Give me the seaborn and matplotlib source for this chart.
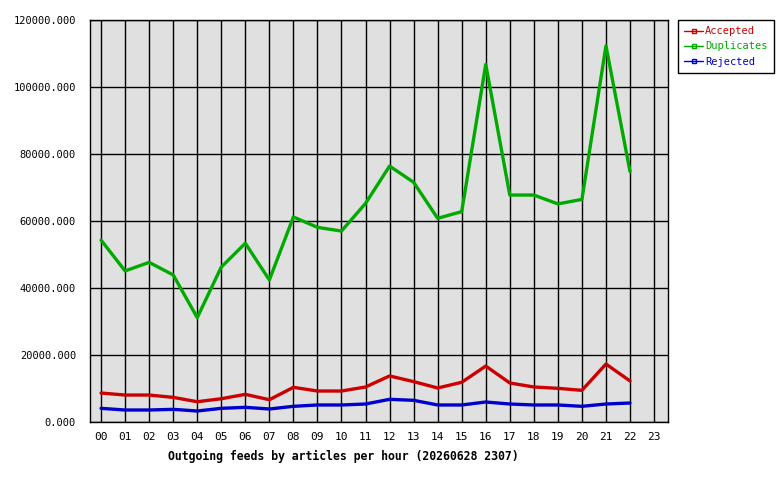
import matplotlib
matplotlib.use("Agg")
import matplotlib.pyplot as plt
from matplotlib.lines import Line2D
import seaborn as sns
import pandas as pd

hours = ["00","01","02","03","04","05","06","07","08","09","10","11",
         "12","13","14","15","16","17","18","19","20","21","22","23"]
accepted = [8650, 8050, 8050, 7350, 6050, 6950, 8250, 6650, 10350, 9250, 9250, 10450,
            13750, 12050, 10150, 11850, 16700, 11650, 10450, 10050, 9450, 17300, 12250]
duplicates = [54300, 45100, 47650, 43900, 31150, 46250, 53350, 42400, 61200, 58100, 57000, 65250,
              76400, 71550, 60800, 62800, 106750, 67750, 67750, 65100, 66450, 112300, 74750]
rejected = [4080, 3580, 3580, 3780, 3280, 4080, 4380, 3880, 4680, 5080, 5080, 5370,
            6770, 6470, 5080, 5080, 5970, 5370, 5080, 5080, 4680, 5370, 5670]
series_names = ["Accepted", "Duplicates", "Rejected"]
colors = ["#cc0000", "#00aa00", "#0000cc"]
yticks = [0, 20000, 40000, 60000, 80000, 100000, 120000]
title = "Outgoing feeds by articles per hour (20260628 2307)"

rows = []
for name, vals in zip(series_names, [accepted, duplicates, rejected]):
    for i, v in enumerate(vals):
        rows.append({"hour": i, "value": v, "series": name})
df = pd.DataFrame(rows)

sns.set_theme(style="white")
plt.rcParams["font.family"] = ["DejaVu Sans Mono"]

fig = plt.figure(figsize=(7.8, 4.8), dpi=100)
ax = fig.add_axes([90/780, 1-422/480, (668-90)/780, (422-20)/480])
ax.set_facecolor("#e0e0e0")

sns.lineplot(data=df, x="hour", y="value", hue="series", hue_order=series_names,
             palette=colors, linewidth=2.4, ax=ax, legend=False, zorder=3)

ax.set_xlim(-0.46, 23.58)
ax.set_ylim(0, 120000)
ax.set_xticks(range(24))
ax.set_xticklabels(hours)
ax.set_yticks(yticks)
ax.set_yticklabels([f"{v}.000" for v in yticks])
ax.grid(True, color="black", linewidth=1.0)
ax.set_axisbelow(True)
for s in ax.spines.values():
    s.set_color("black")
    s.set_linewidth(1.0)
ax.tick_params(axis="y", direction="out", length=8, width=1, colors="black", labelsize=7.5, pad=2)
ax.tick_params(axis="x", direction="out", length=3, width=1, colors="black", labelsize=8, pad=4)
for lbl in ax.get_xticklabels() + ax.get_yticklabels():
    lbl.set_color("black")
ax.set_xlabel(title, fontsize=8.3, fontweight="bold", color="black")
ax.xaxis.set_label_coords((343-90)/(668-90), -0.07)
ax.set_ylabel("")

handles = [Line2D([0], [0], color=c, linewidth=1, marker="s", markersize=3,
                  markerfacecolor="none", markeredgecolor=c) for c in colors]
leg = fig.legend(handles, series_names, loc="upper left",
                 bbox_to_anchor=(678/780, 1-20/480), fontsize=7.5, frameon=True,
                 fancybox=False, edgecolor="black", framealpha=1, handlelength=1.8,
                 handletextpad=0.2, borderpad=0.6, labelspacing=0.5, borderaxespad=0)
leg.get_frame().set_linewidth(1.0)
for t, c in zip(leg.get_texts(), colors):
    t.set_color(c)

fig.savefig("out.png", dpi=100, facecolor="white")
